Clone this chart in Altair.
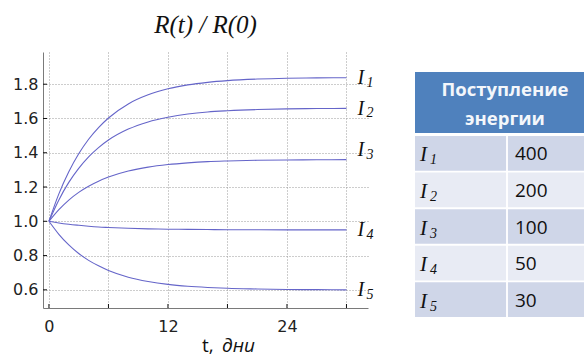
import altair as alt
import pandas as pd

# Relative growth R(t)/R(0) for five energy-input levels, sampled in days
t_days = [0, 1, 2, 3, 4, 5, 6, 8, 10, 12, 14, 16, 18, 21, 24, 27, 30]
ratio_i1 = [1.00, 1.16, 1.289, 1.394, 1.479, 1.547, 1.603, 1.685, 1.738, 1.773, 1.796, 1.811, 1.821, 1.830, 1.835, 1.837, 1.838]
ratio_i2 = [1.00, 1.125, 1.227, 1.309, 1.376, 1.430, 1.474, 1.538, 1.580, 1.607, 1.626, 1.638, 1.645, 1.652, 1.656, 1.658, 1.659]
ratio_i3 = [1.00, 1.068, 1.124, 1.169, 1.205, 1.234, 1.258, 1.293, 1.316, 1.331, 1.341, 1.348, 1.352, 1.356, 1.358, 1.359, 1.360]
ratio_i4 = [1.00, 0.9905, 0.983, 0.977, 0.9715, 0.967, 0.964, 0.959, 0.956, 0.954, 0.953, 0.952, 0.951, 0.9505, 0.950, 0.950, 0.950]
ratio_i5 = [1.00, 0.924, 0.862, 0.812, 0.772, 0.740, 0.713, 0.674, 0.649, 0.632, 0.621, 0.614, 0.609, 0.605, 0.602, 0.601, 0.600]

series = ["I1", "I2", "I3", "I4", "I5"]
subscripts = ["1", "2", "3", "4", "5"]
energy = [400, 200, 100, 50, 30]

x_tick_values = [0, 6, 12, 18, 24, 30]
y_tick_values = [0.6, 0.8, 1.0, 1.2, 1.4, 1.6, 1.8]

ratios = [ratio_i1, ratio_i2, ratio_i3, ratio_i4, ratio_i5]
curves = pd.DataFrame(
    [{"t": t, "r": v, "series": s} for s, vals in zip(series, ratios) for t, v in zip(t_days, vals)]
)
ends = pd.DataFrame(
    {"series": series, "sub": subscripts, "t": [t_days[-1]] * 5, "r": [vals[-1] for vals in ratios]}
)
rows = pd.DataFrame({"row": series, "sub": subscripts, "energy": [str(e) for e in energy]})
cells = pd.DataFrame([{"row": s, "col": c} for s in series for c in ["name", "value"]])
xticks = pd.DataFrame({"t": x_tick_values})
yticks = pd.DataFrame({"r": y_tick_values})
one = pd.DataFrame({"k": [0]})

W, H = 325, 256
CURVE = "#6565c9"
SERIF = "Liberation Serif"
SANS = "DejaVu Sans"

x_scale = alt.Scale(domain=[-0.6, 32.17], nice=False, zero=False)
y_scale = alt.Scale(domain=[0.494, 1.988], nice=False, zero=False)

x_axis = alt.Axis(
    values=x_tick_values,
    labelExpr="datum.value % 12 === 0 ? datum.label : ''",
    title=None, grid=True, gridDash=[1, 2], gridColor="#9a9a9a",
    ticks=False, domainColor="#7a7a7a", labelFont=SANS, labelFontSize=16,
    labelColor="#222222", labelPadding=10, labelFlush=False,
)
y_axis = alt.Axis(
    values=y_tick_values, format=".1f",
    title=None, grid=True, gridDash=[1, 2], gridColor="#9a9a9a",
    ticks=False, domainColor="#7a7a7a", labelFont=SANS, labelFontSize=16,
    labelColor="#222222", labelPadding=5,
)

lines = alt.Chart(curves).mark_line(
    interpolate="monotone", strokeWidth=1.1, color=CURVE
).encode(
    x=alt.X("t:Q", scale=x_scale, axis=x_axis),
    y=alt.Y("r:Q", scale=y_scale, axis=y_axis),
    detail="series:N",
)

def end_labels(flt, shift):
    base = alt.Chart(ends).transform_filter(flt).encode(
        x=alt.X("t:Q", scale=x_scale),
        y=alt.Y("r:Q", scale=y_scale),
    )
    big = base.mark_text(
        text="I", font=SERIF, fontStyle="italic", fontSize=20,
        align="left", baseline="alphabetic", dx=11, dy=6.5 + shift, color="#111111",
    )
    small = base.mark_text(
        font=SERIF, fontStyle="italic", fontSize=14,
        align="left", baseline="alphabetic", dx=20, dy=9 + shift, color="#111111",
    ).encode(text="sub:N")
    return big + small

labels_main = end_labels("datum.series != 'I3'", 0)
labels_i3 = end_labels("datum.series == 'I3'", -10)

x_ticks = alt.Chart(xticks).mark_rule(color="#111111").encode(
    x=alt.X("t:Q", scale=x_scale), y=alt.value(H - 4), y2=alt.value(H)
)
y_ticks = alt.Chart(yticks).mark_rule(color="#111111").encode(
    y=alt.Y("r:Q", scale=y_scale), x=alt.value(0), x2=alt.value(4)
)

x_title_a = alt.Chart(one).mark_text(
    text="t,", font="Open Sans", fontSize=19, align="left", baseline="alphabetic", color="#111111"
).encode(x=alt.value(159), y=alt.value(300))
x_title_b = alt.Chart(one).mark_text(
    text="дни", font="Open Sans", fontStyle="italic", fontSize=19,
    align="left", baseline="alphabetic", color="#111111"
).encode(x=alt.value(179), y=alt.value(300))

plot = alt.layer(lines, labels_main, labels_i3, x_ticks, y_ticks, x_title_a, x_title_b)

# Energy-input table to the right of the plot
tx = alt.Scale(domain=["name", "value"], range=[372, 556], paddingInner=0.02, paddingOuter=0)
ty = alt.Scale(domain=series, range=[84, 265], paddingInner=0.05, paddingOuter=0)
odd_row = alt.FieldOneOfPredicate(field="row", oneOf=["I1", "I3", "I5"])

cell_rects = alt.Chart(cells).mark_rect().encode(
    x=alt.X("col:N", scale=tx, axis=None),
    y=alt.Y("row:N", scale=ty, axis=None),
    color=alt.condition(odd_row, alt.value("#cfd6e8"), alt.value("#e8ebf4")),
)
header = alt.Chart(one).mark_rect(color="#4f81bd").encode(
    x=alt.value(372), x2=alt.value(541), y=alt.value(20), y2=alt.value(81)
)
header_1 = alt.Chart(one).mark_text(
    text="Поступление", font="Open Sans", fontWeight="bold", fontSize=18.5,
    color="#f4f7fb", align="center", baseline="middle",
).encode(x=alt.value(462), y=alt.value(38))
header_2 = alt.Chart(one).mark_text(
    text="энергии", font="Open Sans", fontWeight="bold", fontSize=18.5,
    color="#f4f7fb", align="center", baseline="middle",
).encode(x=alt.value(462), y=alt.value(67))

row_base = alt.Chart(rows).encode(y=alt.Y("row:N", scale=ty, axis=None))
name_i = row_base.transform_calculate(col="'name'").mark_text(
    text="I", font=SERIF, fontStyle="italic", fontSize=21,
    align="left", baseline="middle", dx=5, dy=2, color="#111111",
).encode(x=alt.X("col:N", scale=tx, axis=None, bandPosition=0))
name_sub = row_base.transform_calculate(col="'name'").mark_text(
    font=SERIF, fontStyle="italic", fontSize=14,
    align="left", baseline="middle", dx=15, dy=7, color="#111111",
).encode(x=alt.X("col:N", scale=tx, axis=None, bandPosition=0), text="sub:N")
value_txt = row_base.transform_calculate(col="'value'").mark_text(
    font="Open Sans", fontSize=19, align="left", baseline="middle", dx=7, dy=1, color="#111111",
).encode(x=alt.X("col:N", scale=tx, axis=None, bandPosition=0), text="energy:N")

table = alt.layer(cell_rects, header, header_1, header_2, name_i, name_sub, value_txt)

chart = alt.layer(plot, table).resolve_scale(
    x="independent", y="independent"
).properties(
    width=W, height=H,
    autosize=alt.AutoSizeParams(type="none"),
    padding={"left": 43, "top": 52, "right": 216, "bottom": 54},
    title=alt.Title(
        "R(t) / R(0)", font=SERIF, fontStyle="italic", fontSize=25,
        fontWeight="normal", color="#111111", offset=14, anchor="middle",
    ),
).configure_view(stroke=None)

chart.save("out.html", embed_options={"renderer": "svg", "actions": False})
